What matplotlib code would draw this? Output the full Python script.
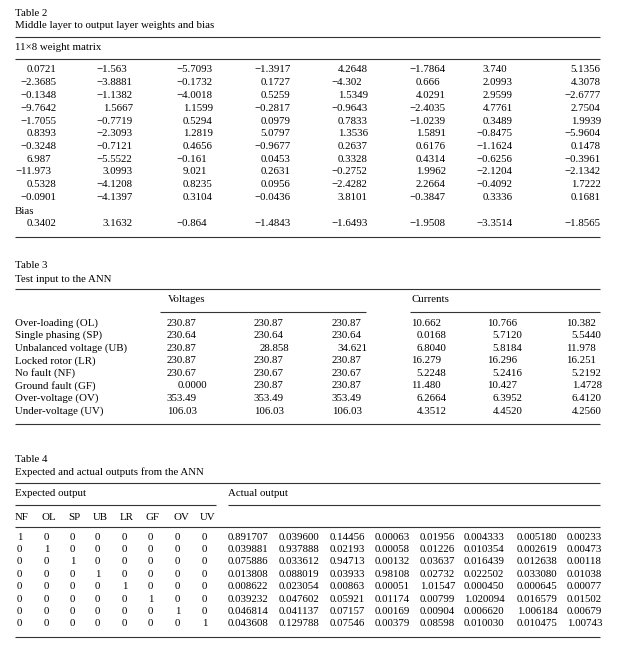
import numpy as np
import matplotlib.pyplot as plt

plt.rcParams['font.family'] = ['Liberation Serif', 'DejaVu Serif']
FS = 7.8

# ---------------- Table 2 data ----------------
t2_title = ['Table 2', 'Middle layer to output layer weights and bias']
t2_header = '11\u00d78 weight matrix'
t2_weights = [
    ['0.0721', '-1.563', '-5.7093', '-1.3917', '4.2648', '-1.7864', '3.740', '5.1356'],
    ['-2.3685', '-3.8881', '-0.1732', '0.1727', '-4.302', '0.666', '2.0993', '4.3078'],
    ['-0.1348', '-1.1382', '-4.0018', '0.5259', '1.5349', '4.0291', '2.9599', '-2.6777'],
    ['-9.7642', '1.5667', '1.1599', '-0.2817', '-0.9643', '-2.4035', '4.7761', '2.7504'],
    ['-1.7055', '-0.7719', '0.5294', '0.0979', '0.7833', '-1.0239', '0.3489', '1.9939'],
    ['0.8393', '-2.3093', '1.2819', '5.0797', '1.3536', '1.5891', '-0.8475', '-5.9604'],
    ['-0.3248', '-0.7121', '0.4656', '-0.9677', '0.2637', '0.6176', '-1.1624', '0.1478'],
    ['6.987', '-5.5522', '-0.161', '0.0453', '0.3328', '0.4314', '-0.6256', '-0.3961'],
    ['-11.973', '3.0993', '9.021', '0.2631', '-0.2752', '1.9962', '-2.1204', '-2.1342'],
    ['0.5328', '-4.1208', '0.8235', '0.0956', '-2.4282', '2.2664', '-0.4092', '1.7222'],
    ['-0.0901', '-4.1397', '0.3104', '-0.0436', '3.8101', '-0.3847', '0.3336', '0.1681'],
]
t2_bias = ['0.3402', '3.1632', '-0.864', '-1.4843', '-1.6493', '-1.9508', '-3.3514', '-1.8565']

# ---------------- Table 3 data ----------------
t3_title = ['Table 3', 'Test input to the ANN']
t3_groups = ['Voltages', 'Currents']
t3_rows = ['Over-loading (OL)', 'Single phasing (SP)', 'Unbalanced voltage (UB)',
           'Locked rotor (LR)', 'No fault (NF)', 'Ground fault (GF)',
           'Over-voltage (OV)', 'Under-voltage (UV)']
t3_voltages = [
    ['230.87', '230.87', '230.87'],
    ['230.64', '230.64', '230.64'],
    ['230.87', '28.858', '34.621'],
    ['230.87', '230.87', '230.87'],
    ['230.67', '230.67', '230.67'],
    ['0.0000', '230.87', '230.87'],
    ['353.49', '353.49', '353.49'],
    ['106.03', '106.03', '106.03'],
]
t3_currents = [
    ['10.662', '10.766', '10.382'],
    ['0.0168', '5.7120', '5.5440'],
    ['6.8040', '5.8184', '11.978'],
    ['16.279', '16.296', '16.251'],
    ['5.2248', '5.2416', '5.2192'],
    ['11.480', '10.427', '1.4728'],
    ['6.2664', '6.3952', '6.4120'],
    ['4.3512', '4.4520', '4.2560'],
]

# ---------------- Table 4 data ----------------
t4_title = ['Table 4', 'Expected and actual outputs from the ANN']
t4_groups = ['Expected output', 'Actual output']
t4_classes = ['NF', 'OL', 'SP', 'UB', 'LR', 'GF', 'OV', 'UV']
t4_expected = np.eye(8, dtype=int)
t4_actual = [
    ['0.891707', '0.039600', '0.14456', '0.00063', '0.01956', '0.004333', '0.005180', '0.00233'],
    ['0.039881', '0.937888', '0.02193', '0.00058', '0.01226', '0.010354', '0.002619', '0.00473'],
    ['0.075886', '0.033612', '0.94713', '0.00132', '0.03637', '0.016439', '0.012638', '0.00118'],
    ['0.013808', '0.088019', '0.03933', '0.98108', '0.02732', '0.022502', '0.033080', '0.01038'],
    ['0.008622', '0.023054', '0.00863', '0.00051', '1.01547', '0.000450', '0.000645', '0.00077'],
    ['0.039232', '0.047602', '0.05921', '0.01174', '0.00799', '1.020094', '0.016579', '0.01502'],
    ['0.046814', '0.041137', '0.07157', '0.00169', '0.00904', '0.006620', '1.006184', '0.00679'],
    ['0.043608', '0.129788', '0.07546', '0.00379', '0.08598', '0.010030', '0.010475', '1.00743'],
]

fig = plt.figure(figsize=(6.23, 6.5), dpi=100)
ax = fig.add_axes([0, 0, 1, 1])
ax.set_xlim(0, 623)
ax.set_ylim(650, 0)
ax.axis('off')

L, R = 15, 600
LC = '#333333'
EM = FS * 100 / 72.0   # em size in pixels


def txt(x, y, s, ha='left'):
    ax.text(x, y, s, ha=ha, va='center', fontsize=FS, color='black')


def num(xd, y, s):
    # decimal-point alignment: digits are 0.5 em, minus 0.564 em in Times metrics
    ip = s.split('.')[0]
    w = 0.5 * EM * sum(c.isdigit() for c in ip) + (0.564 * EM if ip.startswith('-') else 0)
    txt(xd - w, y, s.replace('-', '\u2212'))


def rule(y, x0=L, x1=R, lw=0.8):
    ax.plot([x0, x1], [y, y], color=LC, lw=lw, solid_capstyle='butt')


# ----- Table 2 -----
txt(L, 13, t2_title[0])
txt(L, 26, t2_title[1])
rule(37)
txt(L, 48, t2_header)
rule(59)
t2_dec = [32, 108, 188, 266, 343, 421, 488, 576]
for i, row in enumerate(t2_weights):
    y = 70 + i * 12.75
    for xd, v in zip(t2_dec, row):
        num(xd, y, v)
txt(L, 211, 'Bias')
for xd, v in zip(t2_dec, t2_bias):
    num(xd, 224, v)
rule(237)

# ----- Table 3 -----
txt(L, 266, t3_title[0])
txt(L, 279, t3_title[1])
rule(289)
txt(168, 300, t3_groups[0])
txt(411, 300, t3_groups[1])
rule(312, 160, 366)
rule(312, 410, R)
v_dec = [183, 270, 348]
c_dec = [422, 498, 577]
for i, lab in enumerate(t3_rows):
    y = 323 + i * 12.6
    txt(L, y, lab)
    for xd, v in zip(v_dec, t3_voltages[i]):
        num(xd, y, v)
    for xd, v in zip(c_dec, t3_currents[i]):
        num(xd, y, v)
rule(424)

# ----- Table 4 -----
txt(L, 459, t4_title[0])
txt(L, 472, t4_title[1])
rule(483)
txt(L, 493, t4_groups[0])
txt(228, 493, t4_groups[1])
rule(505, L, 216)
rule(505, 228, R)
e_x = [15, 42, 68, 93, 120, 146, 173, 200]
for xx, c in zip(e_x, t4_classes):
    txt(xx, 517, c)
rule(527)
a_x = [228, 279, 330, 375, 420, 464, 517, 567]
for i in range(8):
    y = 537 + i * 12.4
    for xx, v in zip(e_x, t4_expected[i]):
        txt(xx + 2, y, str(v))
    for xx, v in zip(a_x, t4_actual[i]):
        txt(xx, y, v)
rule(637)

fig.savefig('out.png', dpi=100)
